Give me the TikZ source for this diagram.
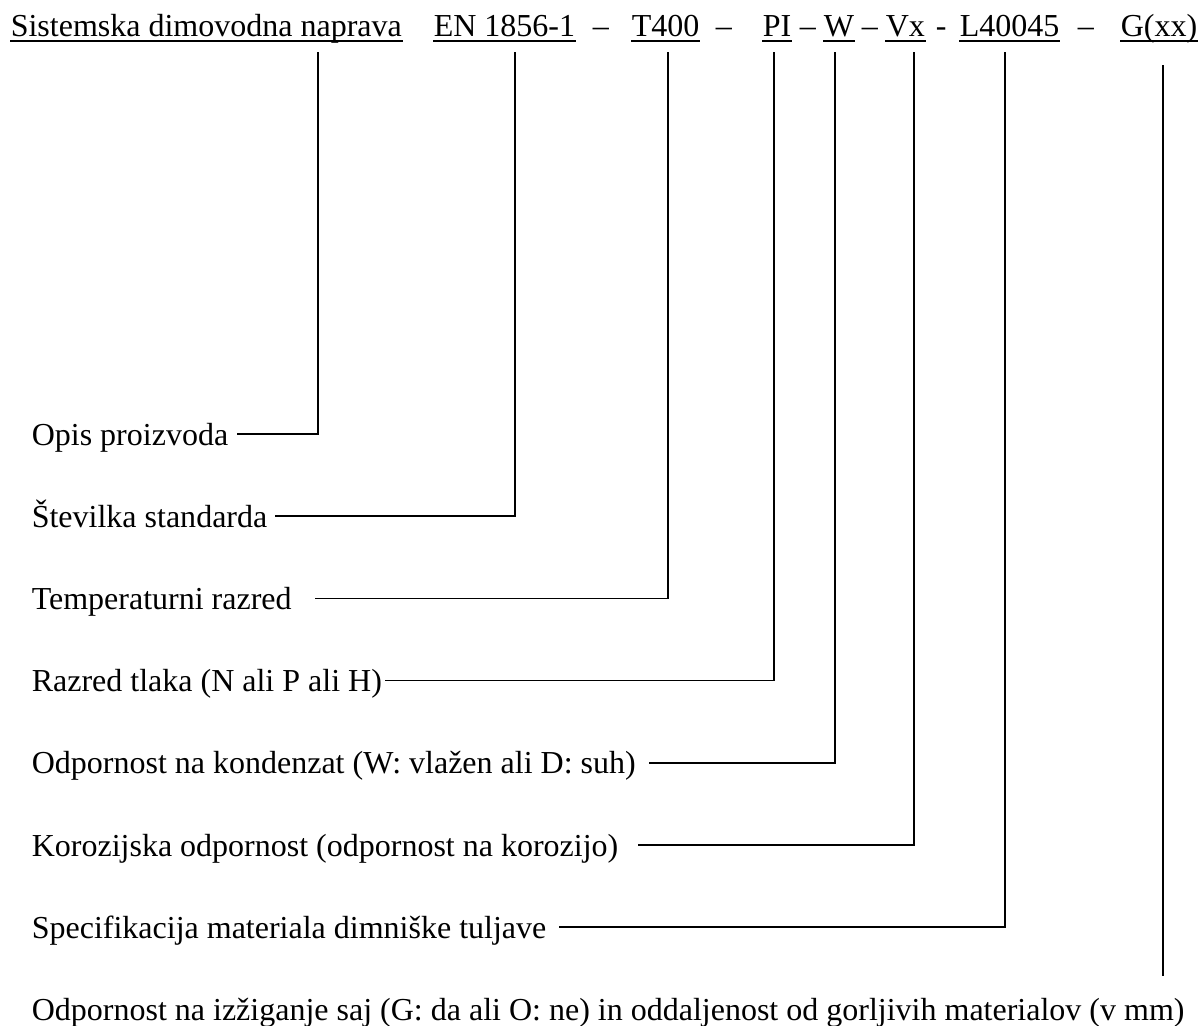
\documentclass[tikz,border=0pt]{standalone}
\usepackage{fontspec}
\setmainfont{Liberation Serif}
\usetikzlibrary{calc}

\begin{document}
\begin{tikzpicture}[x=0.5pt, y=-0.5pt, line width=0.8pt,
    every node/.style={inner sep=0pt, anchor=base west, font=\fontsize{16}{19}\selectfont},
    uline/.style={line width=1pt}]
\useasboundingbox (0,0) rectangle (1202,1025);

% designation line
\node (c1) at (10,36) {Sistemska dimovodna naprava};
\node (c2) at (433,36) {EN 1856-1};
\node (s1) at (592,36) {--};
\node (c3) at (631,36) {T400};
\node (s2) at (715,36) {--};
\node (c4) at (762,36) {PI};
\node (s3) at (799,36) {--};
\node (c5) at (823,36) {W};
\node (s4) at (861,36) {--};
\node (c6) at (885,36) {Vx\ };
\node (s5) at (935,36) {-};
\node (c7) at (959,36) {L40045};
\node (s6) at (1077,36) {--};
\node (c8) at (1120,36) {G(xx)};
\foreach \i in {1,...,8}
  \draw[uline] ([yshift=-2.5pt]c\i.base west) -- ([yshift=-2.5pt]c\i.base east);

% explanations
\node (l1) at (31,445) {Opis proizvoda};
\node (l2) at (31,527.2) {Številka standarda};
\node (l3) at (31,609.4) {Temperaturni razred};
\node (l4) at (31,691.6) {Razred tlaka (N ali P ali H)};
\node (l5) at (31,773.8) {Odpornost na kondenzat (W: vlažen ali D: suh)};
\node (l6) at (31,856) {Korozijska odpornost (odpornost na korozijo)};
\node (l7) at (31,938.2) {Specifikacija materiala dimniške tuljave};
\node (l8) at (31,1020.4) {Odpornost na izžiganje saj (G: da ali O: ne) in oddaljenost od gorljivih materialov (v mm)};

% drop points under the codes
\coordinate (d1) at (318,52);
\coordinate (d2) at (515,52);
\coordinate (d3) at (668,52);
\coordinate (d4) at (774,52);
\coordinate (d5) at (835,52);
\coordinate (d6) at (914,52);
\coordinate (d7) at (1005,52);
\coordinate (d8) at (1163,65);
\coordinate (e8) at (1163,976);

\foreach \i/\g in {1/8,2/7,3/23,4/2,5/12,6/19,7/12}
  \draw (d\i) |- ([shift={(\g,-11)}]l\i.base east);
\draw (d8) -- (e8);
\end{tikzpicture}
\end{document}
